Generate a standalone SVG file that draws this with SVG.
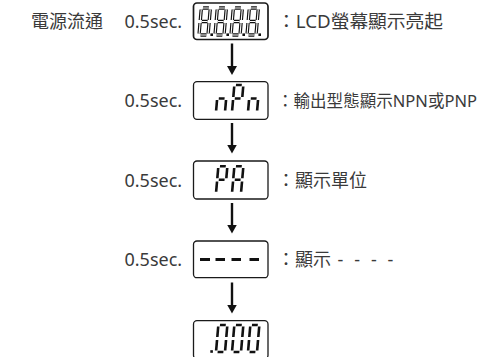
<svg xmlns="http://www.w3.org/2000/svg" xmlns:xlink="http://www.w3.org/1999/xlink" width="483" height="357" viewBox="0 0 483 357">
<style>
.t{font-family:"Noto Sans","Noto Sans CJK TC",sans-serif;font-size:18px;fill:#3a3a3a}
.box{fill:#fff;stroke:#1a1a1a;stroke-width:1.3}
.seg{fill:none;stroke:#111;stroke-width:2.6;stroke-linecap:butt}
.seg8{fill:none;stroke:#111;stroke-width:3.4;stroke-linecap:butt}
.hol{fill:none;stroke:#fff;stroke-width:1.1;stroke-linecap:butt}
.dash{stroke:#111;stroke-width:3;stroke-linecap:butt}
.dot{fill:#111}
.conn{stroke:#111;stroke-width:2.4;fill:none}
</style>
<defs>
<marker id="ah" viewBox="0 0 9 10" refX="5" refY="5" markerWidth="9" markerHeight="10" orient="auto" markerUnits="userSpaceOnUse" preserveAspectRatio="none">
<path d="M0,0 L9,5 L0,10 Z" fill="#111"/>
</marker>
<path id="sa" d="M1.6,-27 H7.4"/>
<path id="sb" d="M9,-25.4 V-15.1"/>
<path id="sc" d="M9,-11.9 V-1.6"/>
<path id="sd" d="M1.6,0 H7.4"/>
<path id="se" d="M0,-11.9 V-1.6"/>
<path id="sf" d="M0,-25.4 V-15.1"/>
<path id="sg" d="M1.6,-13.5 H7.4"/>
<g id="d8"><use xlink:href="#sa"/><use xlink:href="#sb"/><use xlink:href="#sc"/><use xlink:href="#sd"/><use xlink:href="#se"/><use xlink:href="#sf"/><use xlink:href="#sg"/></g>
<g id="d0"><use xlink:href="#sa"/><use xlink:href="#sb"/><use xlink:href="#sc"/><use xlink:href="#sd"/><use xlink:href="#se"/><use xlink:href="#sf"/></g>
<g id="dn"><use xlink:href="#sc"/><use xlink:href="#se"/><use xlink:href="#sg"/></g>
<g id="dP"><use xlink:href="#sa"/><use xlink:href="#sb"/><use xlink:href="#se"/><use xlink:href="#sf"/><use xlink:href="#sg"/></g>
<g id="dA"><use xlink:href="#sa"/><use xlink:href="#sb"/><use xlink:href="#sc"/><use xlink:href="#se"/><use xlink:href="#sf"/><use xlink:href="#sg"/></g>
</defs>
<rect width="483" height="357" fill="#fff"/>

<g id="title"><text class="t" x="31" y="28">電源流通</text></g>

<g id="node1">
<text class="t" x="124.5" y="28">0.5sec.</text>
<rect class="box" x="193.5" y="3" width="74.5" height="36.5" rx="3.5" style="stroke-width:1.7"/>
<g class="seg8" transform="translate(199,35) skewX(-5)"><use xlink:href="#d8"/></g>
<g class="seg8" transform="translate(215,35) skewX(-5)"><use xlink:href="#d8"/></g>
<g class="seg8" transform="translate(231,35) skewX(-5)"><use xlink:href="#d8"/></g>
<g class="seg8" transform="translate(247,35) skewX(-5)"><use xlink:href="#d8"/></g>
<g class="hol" transform="translate(199,35) skewX(-5)"><use xlink:href="#d8"/></g>
<g class="hol" transform="translate(215,35) skewX(-5)"><use xlink:href="#d8"/></g>
<g class="hol" transform="translate(231,35) skewX(-5)"><use xlink:href="#d8"/></g>
<g class="hol" transform="translate(247,35) skewX(-5)"><use xlink:href="#d8"/></g>
<rect class="dot" x="210.4" y="33.4" width="2.6" height="2.6"/>
<rect class="dot" x="226.4" y="33.4" width="2.6" height="2.6"/>
<rect class="dot" x="242.4" y="33.4" width="2.6" height="2.6"/>
<rect class="dot" x="258.4" y="33.4" width="2.6" height="2.6"/>
<text class="t" x="277" y="28" textLength="166" lengthAdjust="spacingAndGlyphs">：LCD螢幕顯示亮起</text>
</g>

<g id="node2">
<text class="t" x="124.5" y="107">0.5sec.</text>
<rect class="box" x="193.5" y="81.7" width="74.5" height="37.6" rx="3.5"/>
<g class="seg" transform="translate(216,112) skewX(-5)"><use xlink:href="#dn"/></g>
<g class="seg" transform="translate(232,112) skewX(-5)"><use xlink:href="#dP"/></g>
<g class="seg" transform="translate(248,112) skewX(-5)"><use xlink:href="#dn"/></g>
<text class="t" x="277" y="107" style="font-size:16.5px" textLength="200" lengthAdjust="spacingAndGlyphs">：輸出型態顯示NPN或PNP</text>
</g>

<g id="node3">
<text class="t" x="124.5" y="186.5">0.5sec.</text>
<rect class="box" x="193.5" y="161" width="74.5" height="38" rx="3.5"/>
<g class="seg" transform="translate(216,193.3) skewX(-5)"><use xlink:href="#dP"/></g>
<g class="seg" transform="translate(232,193.3) skewX(-5)"><use xlink:href="#dA"/></g>
<text class="t" x="277" y="186.5">：顯示單位</text>
</g>

<g id="node4">
<text class="t" x="124.5" y="266">0.5sec.</text>
<rect class="box" x="193.5" y="241" width="74.5" height="36.7" rx="3.5"/>
<line class="dash" x1="200" y1="259.5" x2="210" y2="259.5"/>
<line class="dash" x1="215.5" y1="259.5" x2="225" y2="259.5"/>
<line class="dash" x1="231.5" y1="259.5" x2="241" y2="259.5"/>
<line class="dash" x1="249.5" y1="259.5" x2="259" y2="259.5"/>
<text class="t" x="277" y="266">：顯示<tspan x="337.5">-</tspan><tspan x="354.2">-</tspan><tspan x="370.9">-</tspan><tspan x="387.6">-</tspan></text>
</g>

<g id="node5">
<rect class="box" x="193.5" y="320.7" width="74.5" height="38" rx="3.5"/>
<rect class="dot" x="210.3" y="350.2" width="2.6" height="2.6"/>
<g class="seg" transform="translate(216,352) skewX(-5)"><use xlink:href="#d0"/></g>
<g class="seg" transform="translate(232,352) skewX(-5)"><use xlink:href="#d0"/></g>
<g class="seg" transform="translate(248,352) skewX(-5)"><use xlink:href="#d0"/></g>
</g>

<g id="connectors">
<line class="conn" x1="232" y1="43.5" x2="232" y2="71" marker-end="url(#ah)"/>
<line class="conn" x1="232" y1="123" x2="232" y2="149.5" marker-end="url(#ah)"/>
<line class="conn" x1="232" y1="203" x2="232" y2="229.5" marker-end="url(#ah)"/>
<line class="conn" x1="232" y1="282.5" x2="232" y2="309.5" marker-end="url(#ah)"/>
</g>
</svg>
